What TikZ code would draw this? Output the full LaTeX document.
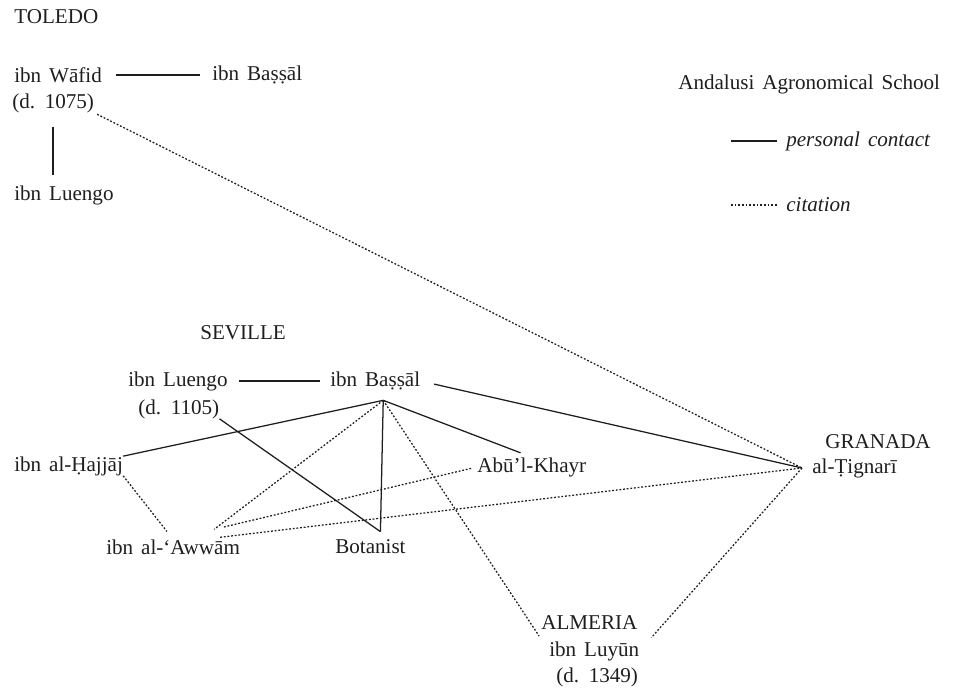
\documentclass[tikz,border=0pt]{standalone}
\usepackage{fontspec}
\setmainfont{Liberation Serif}[WordSpace=1.5]
\usepackage{tikz}
\usetikzlibrary{calc}
\usetikzlibrary{positioning}
\definecolor{inkgray}{RGB}{30, 30, 30}

\begin{document}
\begin{tikzpicture}[
    who/.style={anchor=west, inner sep=0pt, text=inkgray, font=\fontsize{15}{18}\selectfont},
    contact/.style={inkgray, line width=0.9pt},
    citation/.style={inkgray, line width=0.9pt, dash pattern=on 1.3pt off 1.3pt}]
            % Frame
            \useasboundingbox (0.00, 0.00) rectangle (23.95, 17.275);
            % Toledo
            \node[who] (toledo)    at ( 0.35, 16.85) {TOLEDO};
            \node[who] (twafid)    at ( 0.35, 15.40) {ibn Wāfid};
            \node[who] (tdate)     at ( 0.30, 14.70) {(d. 1075)};
            \node[who] (tbassal)   at ( 5.30, 15.40) {ibn Baṣṣāl};
            \node[who] (tluengo)   at ( 0.35, 12.40) {ibn Luengo};
            % Key
            \node[who] (title)     at (16.95, 15.175) {Andalusi Agronomical School};
            \node[who] (kcontact)  at (19.65, 13.75) {\itshape personal contact};
            \node[who] (kcitation) at (19.65, 12.15) {\itshape citation};
            \coordinate (kc) at (18.275, 13.75);
            \coordinate (kd) at (18.275, 12.15);
            % Seville
            \node[who] (seville)   at ( 5.00,  8.95) {SEVILLE};
            \node[who] (sluengo)   at ( 3.20,  7.75) {ibn Luengo};
            \node[who] (sdate)     at ( 3.45,  7.05) {(d. 1105)};
            \node[who] (sbassal)   at ( 8.25,  7.75) {ibn Baṣṣāl};
            \node[who] (hajjaj)    at ( 0.35,  5.625) {ibn al-Ḥajjāj};
            \node[who] (awwam)     at ( 2.65,  3.60) {ibn al-‘Awwām};
            \node[who] (botanist)  at ( 8.375, 3.60) {Botanist};
            \node[who] (abu)       at (11.925, 5.60) {Abū’l-Khayr};
            % Granada
            \node[who] (granada)   at (20.625, 6.225) {GRANADA};
            \node[who] (tignari)   at (20.30,  5.575) {al-Ṭignarī};
            % Almeria
            \node[who] (almeria)   at (13.525, 1.70) {ALMERIA};
            \node[who] (luyun)     at (13.725, 1.00) {ibn Luyūn};
            \node[who] (adate)     at (13.90,  0.35) {(d. 1349)};
            % Meeting points of the lines
            \coordinate (sb) at ([shift={(0.2cm,-0.25cm)}]sbassal.south);
            \coordinate (bt) at ([shift={(0.25cm,0.2cm)}]botanist.north);
            \coordinate (aw) at ([shift={(-0.65cm,0.25cm)}]awwam.north east);
            \coordinate (ax) at ([shift={(-0.5cm,0.05cm)}]awwam.north east);
            \coordinate (tg) at ([xshift=-0.25cm]tignari.west);
            % Personal contact
            \draw[contact, shorten <=0.35cm, shorten >=0.30cm] (twafid.east) -- (tbassal.west);
            \draw[contact, shorten <=0.35cm, shorten >=0.25cm] (tdate.south) -- (tdate.south |- tluengo.north);
            \draw[contact, shorten <=0.27cm, shorten >=0.25cm] (sluengo.east) -- (sbassal.west);
            \draw[contact]                                     (sdate.south east) -- (bt);
            \draw[contact]                                     (sb) -- (bt);
            \draw[contact]                                     (sb) -- (hajjaj.north east);
            \draw[contact, shorten >=0.30cm]                   (sb) -- (abu.north);
            \draw[contact, shorten <=0.35cm]                   (sbassal.east) -- (tg);
            % Citation
            \draw[citation, shorten <=0.08cm]                  (tdate.south east) -- (tg);
            \draw[citation]                                    (sb) -- (aw);
            \draw[citation, shorten <=0.25cm, shorten >=0.15cm] (aw) -- (abu.west);
            \draw[citation]                                    (ax) -- (tg);
            \draw[citation, shorten >=0.25cm]                  (hajjaj.south east) -- (awwam.north);
            \draw[citation, shorten >=0.45cm]                  (sb) -- (luyun.west);
            \draw[citation, shorten >=0.45cm]                  (tg) -- (luyun.east);
            % Key lines
            \draw[contact]                                     (kc) -- ([xshift=-0.225cm]kcontact.west);
            \draw[citation]                                    (kd) -- ([xshift=-0.225cm]kcitation.west);
        \end{tikzpicture}
\end{document}
